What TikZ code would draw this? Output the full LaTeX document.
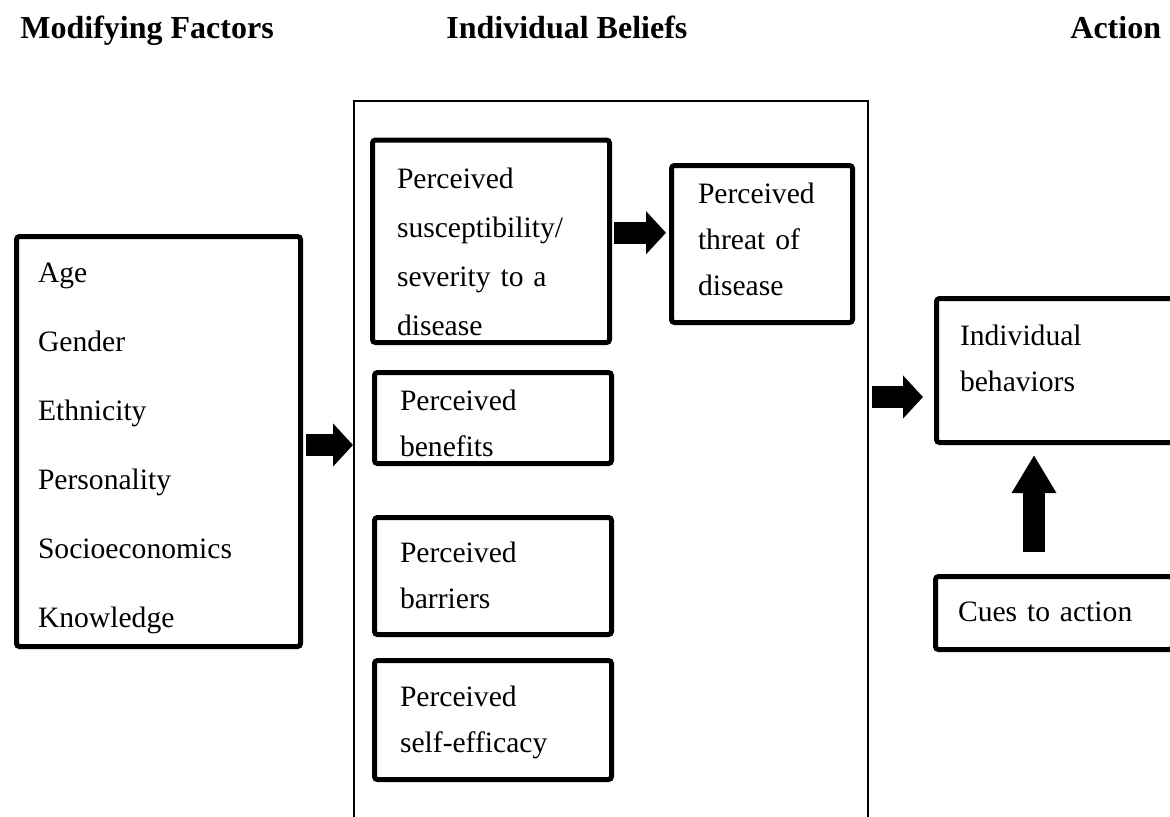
\documentclass[tikz,border=0pt]{standalone}
\usepackage{fontspec}
\setmainfont{Liberation Serif}
\usetikzlibrary{arrows.meta, calc}
\newcommand{\bodyfont}[1][23pt]{\fontsize{14.8pt}{#1}\selectfont}
\newcommand{\headfont}{\fontsize{16pt}{19pt}\selectfont\bfseries}
\tikzset{
  hdr/.style={anchor=base west, inner sep=0pt, font=\headfont},
  pbox/.style={draw, line width=2.5pt, rounded corners=1.5pt, align=left,
               font=\bodyfont, inner ysep=0pt},
  outerbox/.style={draw, line width=1pt, inner sep=0pt},
  barrow/.style={line width=11pt, -{Triangle[length=10pt, width=21pt]}},
}

\begin{document}
\begin{tikzpicture}[x=0.5pt, y=-0.5pt]
  \useasboundingbox (0,0) rectangle (1170,816);
  \clip (0,0) rectangle (1170,816);
  \node[hdr] (hmf)  at (20,38)   {Modifying Factors};
  \node[hdr] (hib)  at (446,38)  {Individual Beliefs};
  \node[hdr] (hact) at (1070,38) {Action};
  \node[outerbox, minimum width=257pt, minimum height=370pt] (ib) at (611,471) {};
  \node[pbox, font={\bodyfont[34.5pt]}, text width=120.5pt, inner xsep=10.75pt,
        text height=22.75pt, text depth=182.25pt] (mf) at (158.5,441.5)
       {Age\\Gender\\Ethnicity\\Personality\\Socioeconomics\\Knowledge};
  \node[pbox, font={\bodyfont[24.5pt]}, text width=94pt, inner xsep=12.25pt,
        text height=24pt, text depth=77.25pt] (sus) at (491,241.25)
       {Perceived\\susceptibility/\\severity to a\\disease};
  \node[pbox, text width=64pt, inner xsep=13.25pt,
        text height=18.75pt, text depth=59.75pt] (threat) at (762,244)
       {Perceived\\threat of\\disease};
  \node[pbox, text width=93pt, inner xsep=12.75pt,
        text height=19pt, text depth=26.5pt] (ben) at (493,418)
       {Perceived\\benefits};
  \node[pbox, text width=93pt, inner xsep=12.75pt,
        text height=22.25pt, text depth=36.25pt] (bar) at (493,576)
       {Perceived\\barriers};
  \node[pbox, text width=93pt, inner xsep=12.75pt,
        text height=23pt, text depth=36.5pt] (eff) at (493,720)
       {Perceived\\self-efficacy};
  \node[pbox, text width=95pt, inner xsep=11.75pt,
        text height=23.25pt, text depth=48.75pt] (beh) at (1055,370.5)
       {Individual\\behaviors};
  \node[pbox, text width=96pt, inner xsep=11.25pt,
        text height=22.25pt, text depth=14.25pt] (cues) at (1054,613)
       {Cues to action};
  \coordinate (a1s) at ($(mf.east)+(0,3.5)$);
  \coordinate (a2s) at ($(sus.east)+(0,-8.5)$);
  \coordinate (a3s) at ($(beh.west -| ib.east)+(0,26.5)$);
  \coordinate (a4s) at ($(cues.north)+(-20,0)$);
  \draw[barrow, shorten <=1.5pt] (a1s) -- (a1s -| ib.west);
  \draw[barrow, shorten <=1pt, shorten >=1.5pt] (a2s) -- (a2s -| threat.west);
  \draw[barrow, shorten <=1.5pt, shorten >=5.5pt] (a3s) -- (a3s -| beh.west);
  \draw[barrow, -{Triangle[length=19pt, width=21pt]}, shorten <=11pt, shorten >=5pt]
       (a4s) -- (a4s |- beh.south);
\end{tikzpicture}
\end{document}
